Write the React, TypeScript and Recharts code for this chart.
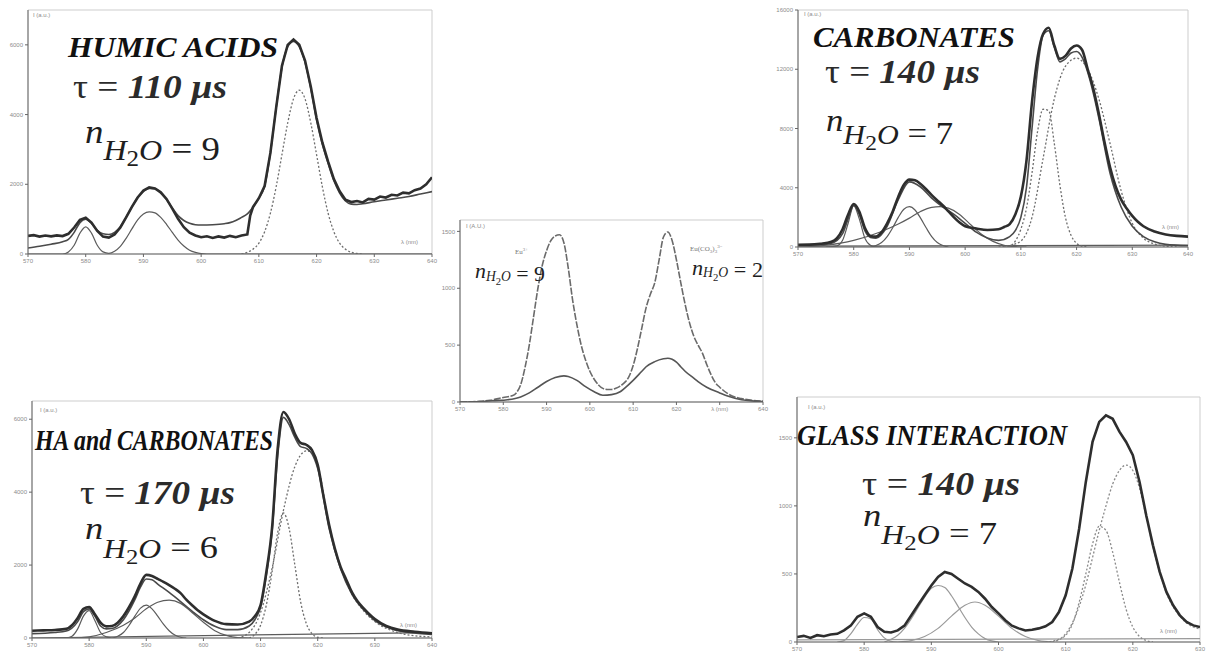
import { LineChart, Line, XAxis, YAxis, ReferenceArea } from 'recharts';
import type { ReactNode } from 'react';

type Pt = [number, number];

// ---------- Humic acids (top left) ----------
const humicMeasured: Pt[] = [
  [570, 520], [571, 540], [572, 500], [573, 530], [574, 505], [575, 535], [576, 515], [577, 580],
  [578, 760], [579, 980], [580, 1040], [581, 900], [582, 660], [583, 500], [584, 470], [585, 560],
  [586, 760], [587, 1050], [588, 1350], [589, 1620], [590, 1820], [591, 1910], [592, 1880], [593, 1770],
  [594, 1580], [595, 1300], [596, 1010], [597, 770], [598, 610], [599, 530], [600, 480], [601, 510],
  [602, 460], [603, 505], [604, 470], [605, 520], [606, 480], [607, 530], [608, 560], [608.5, 1100],
  [609, 1350], [610, 1600], [611, 1950], [612, 2900], [613, 4200], [614, 5400], [615, 6000], [616, 6150],
  [617, 6000], [618, 5550], [619, 4800], [620, 3900], [621, 3200], [622, 2650], [623, 2150], [624, 1800],
  [625, 1560], [626, 1490], [627, 1520], [628, 1480], [629, 1580], [630, 1560], [631, 1650], [632, 1620],
  [633, 1700], [634, 1680], [635, 1760], [636, 1740], [637, 1830], [638, 1880], [639, 2000], [640, 2200],
];
const humicFit: Pt[] = [
  [570, 170], [572, 220], [574, 280], [576, 350], [577, 420], [578, 620], [579, 900], [580, 1000],
  [581, 880], [582, 680], [583, 580], [584, 560], [585, 620], [586, 780], [587, 1050], [588, 1350],
  [589, 1620], [590, 1800], [591, 1880], [592, 1870], [593, 1750], [594, 1560], [595, 1320], [596, 1100],
  [597, 960], [598, 880], [599, 840], [600, 830], [602, 840], [604, 870], [605, 900], [606, 960],
  [607, 1050], [608, 1150], [609, 1350], [610, 1600], [611, 1950], [612, 2900], [613, 4200], [614, 5350],
  [615, 5950], [616, 6100], [617, 5950], [618, 5500], [619, 4750], [620, 3850], [621, 3150], [622, 2600],
  [623, 2100], [624, 1750], [625, 1520], [626, 1430], [627, 1420], [628, 1440], [630, 1500], [632, 1550],
  [634, 1600], [636, 1650], [638, 1720], [640, 1790],
];
const humicBands: Pt[] = [
  [570, 0], [576, 0], [577, 60], [578, 250], [579, 600], [580, 780], [581, 600], [582, 250],
  [583, 60], [584, 20], [585, 80], [586, 220], [587, 450], [588, 720], [589, 980], [590, 1150],
  [591, 1210], [592, 1180], [593, 1050], [594, 850], [595, 620], [596, 400], [597, 230], [598, 110],
  [599, 45], [600, 10], [601, 0], [640, 0],
];
const humicBand617: Pt[] = [
  [607, 0], [608, 50], [609, 140], [610, 310], [611, 640], [612, 1170], [613, 1930], [614, 2850],
  [615, 3760], [616, 4450], [617, 4700], [618, 4450], [619, 3760], [620, 2850], [621, 1930], [622, 1170],
  [623, 640], [624, 310], [625, 140], [626, 50], [627, 15], [628, 0],
];

// ---------- Reference spectra (centre) ----------
const euAqua: Pt[] = [
  [570, 0], [574, 5], [577, 15], [580, 40], [582, 55], [583, 80], [584, 150], [585, 300],
  [586, 500], [587, 750], [588, 1000], [589, 1200], [590, 1330], [591, 1420], [592, 1460], [593, 1470],
  [594, 1400], [595, 1180], [596, 900], [597, 680], [598, 500], [599, 370], [600, 270], [601, 200],
  [602, 150], [603, 120], [604, 110], [605, 110], [606, 120], [607, 140], [608, 170], [609, 220],
  [610, 320], [611, 470], [612, 650], [613, 830], [614, 950], [615, 1050], [616, 1250], [617, 1450],
  [618, 1495], [619, 1420], [620, 1250], [621, 1050], [622, 860], [623, 700], [624, 580], [625, 500],
  [626, 430], [627, 330], [628, 240], [629, 170], [630, 130], [632, 70], [635, 30], [640, 8],
];
const euCarbonate: Pt[] = [
  [570, 0], [575, 5], [578, 12], [581, 20], [584, 45], [586, 80], [588, 130], [590, 180],
  [592, 215], [594, 230], [595, 225], [597, 190], [599, 135], [601, 90], [603, 60], [605, 65],
  [607, 90], [608, 120], [610, 190], [612, 270], [613, 310], [615, 355], [617, 380], [618, 385],
  [619, 375], [620, 350], [621, 310], [622, 270], [624, 210], [625, 180], [627, 130], [630, 80],
  [632, 50], [635, 20], [638, 8], [640, 3],
];

// ---------- Carbonates (top right) ----------
const carbTotal: Pt[] = [
  [570, 150], [572, 160], [574, 220], [576, 350], [577, 600], [578, 1200], [579, 2200], [580, 2900],
  [581, 2400], [582, 1300], [583, 750], [584, 700], [585, 1000], [586, 1600], [587, 2400], [588, 3400],
  [589, 4200], [590, 4550], [591, 4500], [592, 4250], [593, 3900], [594, 3500], [595, 3150], [596, 2800],
  [597, 2400], [598, 2000], [599, 1650], [600, 1400], [602, 1250], [604, 1150], [606, 1200], [607, 1350],
  [608, 1550], [609, 2200], [610, 3400], [611, 5800], [612, 9800], [613, 12800], [614, 14400], [615, 14800],
  [616, 13600], [617, 12700], [618, 12900], [619, 13400], [620, 13600], [621, 13300], [622, 12000], [623, 10700],
  [624, 9000], [625, 7100], [626, 5400], [627, 4100], [628, 3200], [629, 2600], [630, 2100], [631, 1700],
  [632, 1400], [634, 1050], [636, 850], [638, 750], [640, 700],
];
const carbFit: Pt[] = [
  [570, 100], [574, 150], [576, 250], [578, 900], [579, 1900], [580, 2800], [581, 2200], [582, 1100],
  [583, 650], [584, 600], [586, 1400], [588, 3200], [590, 4400], [592, 4050], [594, 3300], [596, 2700],
  [598, 2200], [600, 1600], [602, 1000], [604, 600], [606, 450], [608, 700], [609, 1100], [610, 2000],
  [611, 4000], [612, 8000], [613, 12000], [614, 14300], [615, 14600], [616, 13500], [617, 12500], [618, 12700],
  [619, 13100], [620, 13200], [621, 12800], [622, 11800], [623, 10400], [624, 8700], [626, 5000], [628, 2700],
  [630, 1400], [632, 700], [634, 350], [636, 180], [640, 80],
];
const carb580: Pt[] = [
  [575, 0], [577, 80], [578, 450], [579, 1600], [580, 2800], [581, 1900], [582, 600], [583, 120], [584, 10], [585, 0],
];
const carb590: Pt[] = [
  [583, 0], [584, 100], [585, 300], [586, 700], [587, 1300], [588, 2000], [589, 2550], [590, 2720],
  [591, 2500], [592, 1950], [593, 1300], [594, 700], [595, 300], [596, 100], [597, 0],
];
const carb595: Pt[] = [
  [570, 0], [575, 120], [580, 450], [585, 1050], [588, 1550], [590, 1950], [592, 2400], [594, 2680],
  [595.5, 2720], [597, 2620], [599, 2200], [601, 1500], [603, 850], [605, 380], [607, 120], [609, 20], [611, 0],
];
const carbBaseline: Pt[] = [[570, 60], [640, 120]];
const carb614: Pt[] = [
  [607, 0], [608, 50], [609, 400], [610, 1200], [611, 2600], [612, 5000], [613, 7800], [614, 9300],
  [615, 9200], [616, 7000], [617, 4200], [618, 2000], [619, 800], [620, 250], [621, 50], [622, 0],
];
const carb620: Pt[] = [
  [606, 0], [608, 100], [610, 400], [612, 2000], [614, 6000], [616, 10000], [618, 12200], [620, 12750],
  [622, 12000], [624, 10000], [626, 7000], [628, 3800], [630, 1600], [632, 600], [634, 200], [636, 50], [638, 0],
];

// ---------- HA and carbonates (bottom left) ----------
const haTotal: Pt[] = [
  [570, 200], [572, 210], [574, 220], [576, 250], [577, 350], [578, 550], [579, 800], [580, 850],
  [581, 650], [582, 420], [583, 320], [584, 330], [585, 420], [586, 600], [587, 850], [588, 1150],
  [589, 1500], [590, 1730], [591, 1700], [592, 1620], [593, 1540], [594, 1450], [595, 1350], [596, 1230],
  [597, 1050], [598, 900], [599, 760], [600, 650], [602, 470], [604, 380], [606, 370], [608, 450],
  [609, 600], [610, 900], [611, 1800], [612, 3000], [613, 5200], [614, 6200], [615, 6000], [616, 5600],
  [617, 5350], [618, 5300], [619, 5150], [620, 4750], [621, 3900], [622, 3100], [623, 2450], [624, 1950],
  [625, 1600], [626, 1250], [627, 1000], [628, 820], [630, 520], [632, 330], [634, 230], [637, 170], [640, 130],
];
const haFit: Pt[] = [
  [570, 120], [574, 150], [576, 190], [578, 450], [579, 720], [580, 800], [581, 600], [582, 330],
  [583, 250], [584, 260], [586, 500], [588, 1050], [589, 1400], [590, 1620], [591, 1600], [592, 1480],
  [594, 1250], [596, 1000], [598, 740], [600, 500], [602, 320], [604, 230], [606, 230], [608, 330],
  [609, 500], [610, 850], [611, 1700], [612, 2900], [613, 5000], [614, 6050], [615, 5850], [616, 5500],
  [617, 5250], [618, 5200], [619, 5050], [620, 4650], [622, 3000], [624, 1900], [626, 1200], [628, 780],
  [630, 480], [633, 250], [636, 150], [640, 100],
];
const ha580: Pt[] = [[576, 0], [577, 50], [578, 250], [579, 600], [580, 750], [581, 480], [582, 150], [583, 30], [584, 0]];
const ha590: Pt[] = [
  [584, 0], [585, 50], [586, 150], [587, 350], [588, 600], [589, 820], [590, 900], [591, 800],
  [592, 600], [593, 380], [594, 200], [595, 80], [596, 20], [597, 0],
];
const ha595: Pt[] = [
  [578, 0], [580, 30], [583, 150], [586, 350], [588, 550], [590, 800], [592, 980], [594, 1040],
  [596, 950], [598, 700], [600, 430], [602, 200], [604, 70], [606, 10], [608, 0],
];
const haBaseline: Pt[] = [[570, 0], [640, 150]];
const ha614: Pt[] = [
  [608, 0], [609, 100], [610, 350], [611, 900], [612, 1800], [613, 2900], [614, 3430], [615, 3000],
  [616, 2000], [617, 1000], [618, 400], [619, 120], [620, 20], [621, 0],
];
const ha618: Pt[] = [
  [606, 0], [608, 150], [610, 700], [612, 1900], [614, 3500], [616, 4700], [618, 5130], [619, 5100],
  [620, 4750], [622, 3100], [624, 1950], [626, 1200], [628, 750], [630, 450], [633, 200], [636, 80], [640, 30],
];

// ---------- Glass interaction (bottom right) ----------
const glassTotal: Pt[] = [
  [570, 37], [571, 45], [572, 30], [573, 50], [574, 42], [575, 55], [576, 60], [577, 85],
  [578, 120], [579, 185], [580, 210], [581, 185], [582, 110], [583, 75], [584, 70], [585, 85],
  [586, 120], [587, 195], [588, 270], [589, 343], [590, 415], [591, 478], [592, 515], [593, 500],
  [594, 465], [595, 430], [596, 405], [597, 368], [598, 318], [599, 257], [600, 210], [601, 160],
  [602, 120], [603, 100], [604, 85], [605, 90], [606, 100], [607, 115], [608, 147], [609, 220],
  [610, 343], [611, 540], [612, 830], [613, 1176], [614, 1470], [615, 1617], [616, 1666], [617, 1640],
  [618, 1545], [619, 1470], [620, 1372], [621, 1176], [622, 930], [623, 710], [624, 515], [625, 368],
  [626, 270], [627, 196], [628, 147], [629, 122], [630, 110],
];
const glass580: Pt[] = [[576, 0], [577, 10], [578, 60], [579, 130], [580, 180], [581, 170], [582, 90], [583, 30], [584, 5], [585, 0]];
const glass591: Pt[] = [
  [583, 0], [584, 20], [585, 50], [586, 100], [587, 170], [588, 250], [589, 330], [590, 395],
  [591, 415], [592, 400], [593, 340], [594, 260], [595, 180], [596, 110], [597, 60], [598, 25], [599, 8], [600, 0],
];
const glass596: Pt[] = [
  [585, 0], [587, 10], [589, 40], [591, 100], [593, 190], [595, 270], [596.5, 294], [598, 270],
  [600, 190], [602, 100], [604, 40], [606, 10], [608, 0],
];
const glassBaseline: Pt[] = [[570, 15], [630, 25]];
const glass615: Pt[] = [
  [608, 0], [610, 50], [611, 130], [612, 290], [613, 500], [614, 720], [615, 850], [616, 820],
  [617, 660], [618, 440], [619, 240], [620, 110], [621, 40], [622, 10], [623, 0],
];
const glass619: Pt[] = [
  [607, 0], [609, 20], [610, 60], [611, 140], [612, 260], [613, 420], [614, 620], [615, 820],
  [616, 1000], [617, 1160], [618, 1260], [619, 1300], [620, 1260], [621, 1130], [622, 920], [623, 700],
  [624, 510], [625, 360], [626, 260], [627, 190], [628, 140], [629, 110], [630, 95],
];

// axis ticks
const wlTicks = [570, 580, 590, 600, 610, 620, 630, 640];
const wlTicksShort = [570, 580, 590, 600, 610, 620, 630];
const humicYTicks = [0, 2000, 4000, 6000];
const centerYTicks = [0, 500, 1000, 1500];
const centerRightTicks = [500, 1000];
const carbYTicks = [0, 4000, 8000, 12000, 16000];
const haYTicks = [0, 2000, 4000, 6000];
const glassYTicks = [0, 500, 1000, 1500];

const pts = (arr: Pt[]) => arr.map(([x, y]) => ({ x, y }));

const tickStyle = { fontSize: 6, fill: '#8c8c8c', fontFamily: 'Liberation Sans, Arial, sans-serif' };
const SERIF = 'Liberation Serif, Times New Roman, Times, serif';

interface TraceStyle {
  color: string;
  width: number;
  dash?: string;
  curve?: 'monotone' | 'linear';
}

const THICK: TraceStyle = { color: '#2e2e2e', width: 2.6, curve: 'linear' };
const FIT: TraceStyle = { color: '#4a4a4a', width: 1.6 };
const BAND: TraceStyle = { color: '#5c5c5c', width: 1.2 };
const LIGHT: TraceStyle = { color: '#9a9a9a', width: 1.2 };
const DASHED: TraceStyle = { color: '#6e6e6e', width: 1.3, dash: '2 2' };

const trace = (key: string, arr: Pt[], s: TraceStyle) => (
  <Line
    key={key}
    data={pts(arr)}
    dataKey="y"
    type={s.curve ?? 'monotone'}
    stroke={s.color}
    strokeWidth={s.width}
    strokeDasharray={s.dash}
    dot={false}
    activeDot={false}
    isAnimationActive={false}
  />
);

interface PanelProps {
  left: number;
  top: number;
  width: number;
  height: number;
  marginTop: number;
  marginRight: number;
  yWidth: number;
  xHeight: number;
  xMax: number;
  xTicks: number[];
  yMax: number;
  yTicks: number[];
  rightTicks?: number[];
  rightMax?: number;
  xFormat?: (v: number) => string;
  children: ReactNode;
}

function Panel(p: PanelProps) {
  return (
    <div style={{ position: 'absolute', left: p.left, top: p.top }}>
      <LineChart
        width={p.width}
        height={p.height}
        margin={{ top: p.marginTop, right: p.marginRight, left: 0, bottom: 0 }}
      >
        <XAxis
          type="number"
          dataKey="x"
          domain={[570, p.xMax]}
          ticks={p.xTicks}
          interval={0}
          allowDataOverflow
          height={p.xHeight}
          tickSize={3}
          tick={tickStyle}
          tickFormatter={p.xFormat}
          stroke="#666"
        />
        <YAxis
          type="number"
          domain={[0, p.yMax]}
          ticks={p.yTicks}
          interval={0}
          allowDataOverflow
          width={p.yWidth}
          tickSize={3}
          tick={tickStyle}
          stroke="#666"
        />
        {p.rightTicks && (
          <YAxis
            yAxisId="r"
            orientation="right"
            type="number"
            domain={[0, p.rightMax ?? 1]}
            ticks={p.rightTicks}
            width={14}
            tickSize={3}
            tick={tickStyle}
            axisLine={false}
            stroke="#666"
          />
        )}
        <ReferenceArea x1={570} x2={p.xMax} y1={0} y2={p.yMax} fill="none" stroke="#cdcdcd" strokeWidth={1} />
        {p.children}
      </LineChart>
    </div>
  );
}

function Title({ x, y, w, text }: { x: number; y: number; w: number; text: string }) {
  return (
    <text x={x} y={y} fontFamily={SERIF} fontSize={30} fontWeight="bold" fontStyle="italic" fill="#111"
      textLength={w} lengthAdjust="spacingAndGlyphs">
      {text}
    </text>
  );
}

function Lifetime({ x, y, w, value }: { x: number; y: number; w: number; value: string }) {
  return (
    <text x={x} y={y} fontFamily={SERIF} fontSize={33} fill="#2b2b2b" textLength={w} lengthAdjust="spacingAndGlyphs">
      <tspan>τ = </tspan>
      <tspan fontWeight="bold" fontStyle="italic">{value} µs</tspan>
    </text>
  );
}

function Hydration({ x, y, w, n, size, drop, sub }: { x: number; y: number; w: number; n: number; size: number; drop: number; sub: number }) {
  return (
    <text x={x} y={y} fontFamily={SERIF} fontSize={size} fill="#1e1e1e" textLength={w} lengthAdjust="spacingAndGlyphs">
      <tspan fontStyle="italic" dy={-drop}>n</tspan>
      <tspan fontStyle="italic" fontSize={size * sub} dy={drop}>H</tspan>
      <tspan fontSize={size * sub * 0.78} dy={size * 0.18}>2</tspan>
      <tspan fontStyle="italic" fontSize={size * sub} dy={-size * 0.18}>O</tspan>
      <tspan> = {n}</tspan>
    </text>
  );
}

function SmallLabel({ x, y, children }: { x: number; y: number; children: ReactNode }) {
  return (
    <text x={x} y={y} fontFamily="Liberation Sans, Arial, sans-serif" fontSize={6} fill="#8c8c8c">
      {children}
    </text>
  );
}

export default function App() {
  return (
    <div style={{ position: 'absolute', left: 0, top: 0, width: 1208, height: 656, background: '#fff', overflow: 'hidden' }}>
      <Panel left={0} top={0} width={440} height={270} marginTop={10} marginRight={8} yWidth={28} xHeight={16}
        xMax={640} xTicks={wlTicks} yMax={7000} yTicks={humicYTicks}>
        {trace('bands', humicBands, BAND)}
        {trace('b617', humicBand617, DASHED)}
        {trace('fit', humicFit, FIT)}
        {trace('meas', humicMeasured, THICK)}
      </Panel>

      <Panel left={430} top={212} width={350} height={204} marginTop={8} marginRight={3} yWidth={30} xHeight={14}
        xMax={640} xTicks={wlTicks} yMax={1600} yTicks={centerYTicks} rightTicks={centerRightTicks} rightMax={1400}
        xFormat={(v) => (v === 630 ? 'λ (nm)' : String(v))}>
        {trace('aqua', euAqua, { color: '#6a6a6a', width: 1.6, dash: '7 1.5' })}
        {trace('carb', euCarbonate, { color: '#555', width: 1.6 })}
      </Panel>

      <Panel left={766} top={0} width={440} height={262} marginTop={10} marginRight={18} yWidth={32} xHeight={15}
        xMax={640} xTicks={wlTicks} yMax={16000} yTicks={carbYTicks}>
        {trace('base', carbBaseline, BAND)}
        {trace('c580', carb580, BAND)}
        {trace('c590', carb590, BAND)}
        {trace('c595', carb595, BAND)}
        {trace('c614', carb614, DASHED)}
        {trace('c620', carb620, DASHED)}
        {trace('fit', carbFit, FIT)}
        {trace('tot', carbTotal, { ...THICK, curve: 'monotone' })}
      </Panel>

      <Panel left={0} top={391} width={440} height={263} marginTop={10} marginRight={8} yWidth={32} xHeight={16}
        xMax={640} xTicks={wlTicks} yMax={6500} yTicks={haYTicks}>
        {trace('base', haBaseline, BAND)}
        {trace('h580', ha580, BAND)}
        {trace('h590', ha590, BAND)}
        {trace('h595', ha595, BAND)}
        {trace('h614', ha614, DASHED)}
        {trace('h618', ha618, DASHED)}
        {trace('fit', haFit, FIT)}
        {trace('tot', haTotal, { ...THICK, curve: 'monotone' })}
      </Panel>

      <Panel left={765} top={389} width={441} height={266} marginTop={8} marginRight={6} yWidth={32} xHeight={13}
        xMax={630} xTicks={wlTicksShort} yMax={1800} yTicks={glassYTicks}>
        {trace('base', glassBaseline, LIGHT)}
        {trace('g580', glass580, LIGHT)}
        {trace('g591', glass591, LIGHT)}
        {trace('g596', glass596, LIGHT)}
        {trace('g615', glass615, { ...DASHED, color: '#8a8a8a' })}
        {trace('g619', glass619, { ...DASHED, color: '#8a8a8a' })}
        {trace('tot', glassTotal, THICK)}
      </Panel>

      <svg width={1208} height={656} style={{ position: 'absolute', left: 0, top: 0, pointerEvents: 'none' }}>
        {/* axis captions */}
        <SmallLabel x={33} y={17}>I (a.u.)</SmallLabel>
        <SmallLabel x={401} y={244}>λ (nm)</SmallLabel>
        <SmallLabel x={466} y={228}>I (A.U.)</SmallLabel>
        <SmallLabel x={804} y={16}>I (a.u.)</SmallLabel>
        <SmallLabel x={1162} y={229}>λ (nm)</SmallLabel>
        <SmallLabel x={40} y={412}>I (a.u.)</SmallLabel>
        <SmallLabel x={400} y={627}>λ (nm)</SmallLabel>
        <SmallLabel x={808} y={409}>I (a.u.)</SmallLabel>
        <SmallLabel x={1160} y={633}>λ (nm)</SmallLabel>

        {/* centre panel species */}
        <text x={515} y={254} fontFamily={SERIF} fontSize={7} fill="#777">
          Eu<tspan fontSize={5} dy={-3}>3+</tspan>
        </text>
        <text x={690} y={251} fontFamily={SERIF} fontSize={7} fill="#777">
          Eu(CO<tspan fontSize={5} dy={2}>3</tspan><tspan dy={-2}>)</tspan>
          <tspan fontSize={5} dy={2}>3</tspan><tspan fontSize={5} dy={-5}>3−</tspan>
        </text>
        <Hydration x={475} y={281} w={70} n={9} size={22} drop={3} sub={0.62} />
        <Hydration x={692} y={277} w={71} n={2} size={22} drop={2} sub={0.62} />

        <Title x={68} y={57} w={210} text="HUMIC ACIDS" />
        <Lifetime x={73} y={98} w={154} value="110" />
        <Hydration x={85} y={160} w={135} n={9} size={33} drop={17} sub={0.87} />

        <Title x={813} y={47} w={202} text="CARBONATES" />
        <Lifetime x={825} y={83} w={155} value="140" />
        <Hydration x={826} y={144} w={127} n={7} size={31} drop={13} sub={0.87} />

        <Title x={35} y={450} w={238} text="HA and CARBONATES" />
        <Lifetime x={80} y={504} w={155} value="170" />
        <Hydration x={85} y={558} w={133} n={6} size={32} drop={19} sub={0.87} />

        <Title x={797} y={445} w={270} text="GLASS INTERACTION" />
        <Lifetime x={862} y={495} w={158} value="140" />
        <Hydration x={863} y={544} w={134} n={7} size={32} drop={18} sub={0.87} />
      </svg>
    </div>
  );
}
